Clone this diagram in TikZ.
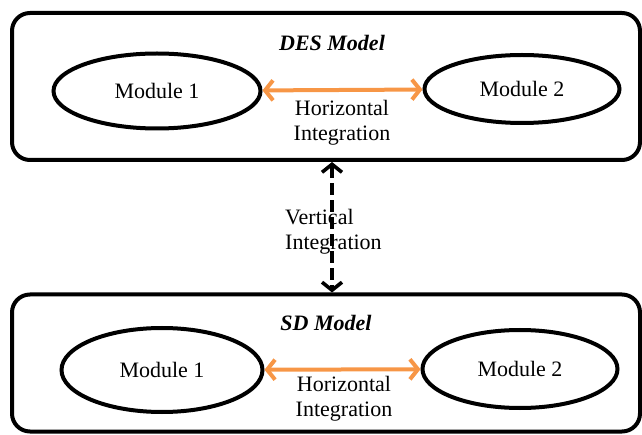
\documentclass[tikz,border=0pt]{standalone}
\usepackage{fontspec}
\setmainfont{Liberation Serif}
\usetikzlibrary{shapes}
\usetikzlibrary{positioning}
\usetikzlibrary{arrows.meta}
\definecolor{hzorange}{RGB}{247,150,70}
\tikzset{
    modelbox/.style = {rectangle, rounded corners=18pt, line width=4pt, draw=black, minimum width=628pt},
    modnode/.style = {ellipse, line width=4pt, draw=black, align=center, inner sep=0pt, font=\fontsize{22}{25}\selectfont},
    titletext/.style = {font=\fontsize{22}{25}\selectfont\bfseries\itshape},
    labeltext/.style = {align=center, inner sep=0pt, font=\fontsize{22}{25}\selectfont},
    edgeh/.style = {{Straight Barb[length=8pt,width=20pt]}-{Straight Barb[length=8pt,width=20pt]}, line width=4pt, hzorange},
    edgev/.style = {{Straight Barb[length=8pt,width=20pt]}-{Straight Barb[length=8pt,width=20pt]}, line width=3.6pt, black, dash pattern=on 12pt off 5pt}
}

\begin{document}
\begin{tikzpicture}[x=1pt,y=-1pt]
\useasboundingbox (0,0) rectangle (642,435);
%
\node[modelbox, minimum height=147pt] at (326, 86.5) (des) {};
\node[modelbox, minimum height=137pt] at (326, 363) (sd) {};
\node[titletext] at (332, 43) (destitle) {DES Model};
\node[titletext] at (326, 323) (sdtitle) {SD Model};
%
\node[modnode, minimum width=207pt, minimum height=75pt] at (157, 91) (dm1) {Module 1};
\node[modnode, minimum width=195pt, minimum height=68pt] at (522, 89) (dm2) {Module 2};
\node[modnode, minimum width=201pt, minimum height=84pt] at (162, 370) (sm1) {Module 1};
\node[modnode, minimum width=195pt, minimum height=78pt] at (520, 369) (sm2) {Module 2};
%
\node[labeltext] at (342, 123) (dhint) {Horizontal\\Integration};
\node[labeltext] at (344, 399) (shint) {Horizontal\\Integration};
\node[labeltext, align=left, anchor=west] at (285, 232) (vint) {Vertical\\Integration};
%
\draw[edgeh] (dm1) -- (dm2);
\draw[edgeh] (sm1) -- (sm2);
\draw[edgev] ([xshift=6pt]des.south) -- ([xshift=6pt]sd.north);
\end{tikzpicture}
\end{document}
